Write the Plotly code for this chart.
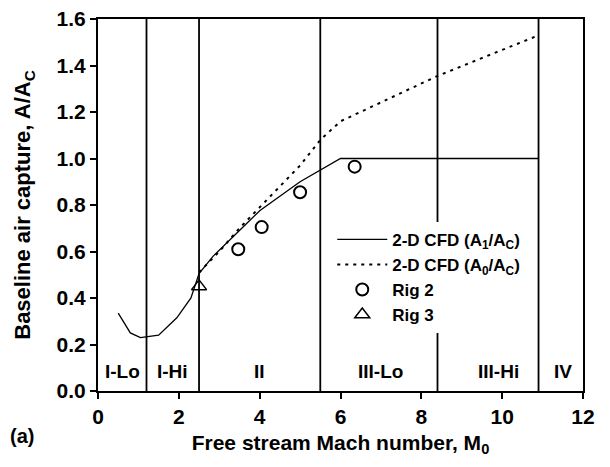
import plotly.graph_objects as go

# ---- data ----
cfd_a1_mach = [0.5, 0.8, 1.05, 1.5, 1.95, 2.3, 2.5, 2.85, 3.5, 4.0, 5.0, 6.0, 10.9]
cfd_a1_ratio = [0.335, 0.25, 0.23, 0.24, 0.315, 0.40, 0.505, 0.58, 0.69, 0.775, 0.90, 1.0, 1.0]

cfd_a0_mach = [2.5, 3.0, 3.5, 4.0, 5.0, 5.5, 6.0, 8.4, 10.9]
cfd_a0_ratio = [0.51, 0.60, 0.70, 0.79, 0.97, 1.08, 1.16, 1.355, 1.53]

rig2_mach = [3.47, 4.05, 5.0, 6.35]
rig2_ratio = [0.61, 0.705, 0.855, 0.965]

rig3_mach = [2.5]
rig3_ratio = [0.45]

boundary_mach = [1.2, 2.5, 5.5, 8.4, 10.9]
region_labels = ["I-Lo", "I-Hi", "II", "III-Lo", "III-Hi", "IV"]
region_label_x = [0.6, 1.85, 4.0, 7.0, 9.9, 11.5]

FONT = "Liberation Sans"

fig = go.Figure()

fig.add_trace(go.Scatter(
    x=cfd_a1_mach, y=cfd_a1_ratio, mode="lines",
    name="2-D CFD (A<sub>1</sub>/A<sub>C</sub>)",
    line=dict(color="black", width=1.3),
))
fig.add_trace(go.Scatter(
    x=cfd_a0_mach, y=cfd_a0_ratio, mode="lines",
    name="2-D CFD (A<sub>0</sub>/A<sub>C</sub>)",
    line=dict(color="black", width=2, dash="3px,5px"),
))
fig.add_trace(go.Scatter(
    x=rig2_mach, y=rig2_ratio, mode="markers", name="Rig 2",
    marker=dict(symbol="circle-open", size=12, color="black", line=dict(width=2)),
))
fig.add_trace(go.Scatter(
    x=rig3_mach, y=rig3_ratio, mode="markers", name="Rig 3",
    marker=dict(symbol="triangle-up-open", size=13, color="black", line=dict(width=1.5)),
))

# region boundaries
for m in boundary_mach:
    fig.add_shape(type="line", x0=m, x1=m, y0=0, y1=1.6, xref="x", yref="y",
                  line=dict(color="black", width=1.8), layer="below")

# region labels
for lbl, xm in zip(region_labels, region_label_x):
    fig.add_annotation(x=xm, y=0.085, text=lbl, showarrow=False,
                       font=dict(family=FONT, size=19, color="black", weight="bold"))

fig.add_annotation(x=-0.186, y=-0.122, xref="paper", yref="paper", text="(a)",
                   showarrow=False, xanchor="left", yanchor="middle",
                   font=dict(family=FONT, size=20, color="black", weight="bold"))

axis_common = dict(
    showline=True, linecolor="black", linewidth=2, mirror=True,
    ticks="outside", ticklen=6, tickwidth=2, tickcolor="black",
    showgrid=False, zeroline=False, automargin=False,
    ticklabeloverflow="allow",
    tickfont=dict(family=FONT, size=21, color="black", weight="bold"),
)

# the page body adds an 8px offset, so margins are shifted left/up
fig.update_layout(
    width=610, height=467,
    margin=dict(l=90, r=35, t=11, b=84),
    plot_bgcolor="white", paper_bgcolor="white",
    font=dict(family=FONT, color="black"),
    xaxis=dict(
        range=[0, 12], dtick=2,
        title=dict(text="Free stream Mach number, M<sub>0</sub>",
                   font=dict(family=FONT, size=21, color="black", weight="bold"), standoff=8),
        **axis_common,
    ),
    yaxis=dict(
        range=[0, 1.6], dtick=0.2, tickformat=".1f",
        title=dict(text="Baseline air capture, A/A<sub>C</sub>",
                   font=dict(family=FONT, size=22, color="black", weight="bold"), standoff=20),
        **axis_common,
    ),
    legend=dict(
        x=0.483, y=0.455, xanchor="left", yanchor="top",
        bgcolor="white", borderwidth=0,
        font=dict(family=FONT, size=17, color="black", weight="bold"),
        tracegroupgap=0, itemwidth=50,
    ),
    showlegend=True,
)

fig.write_html("out.html")
